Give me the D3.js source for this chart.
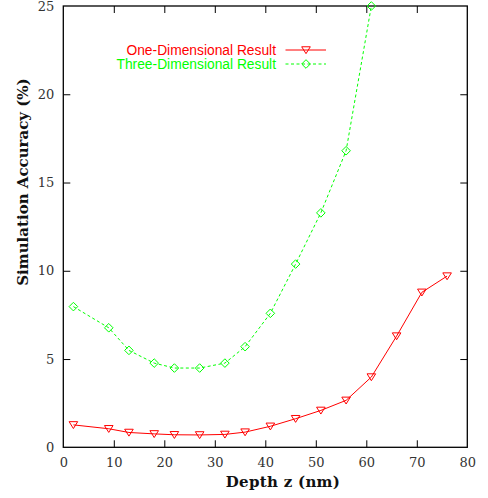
<!DOCTYPE html>
<html>
<head>
<meta charset="utf-8">
<script src="https://cdn.jsdelivr.net/npm/d3@7"></script>
<style>
  html, body { margin: 0; padding: 0; background: #fff; }
  svg { display: block; }
</style>
</head>
<body>
<svg id="chart" width="488" height="498"></svg>
<script>
// Depth positions (nm) at which both simulations were sampled
const depthOne = [2, 9, 13, 18, 22, 27, 32, 36, 41, 46, 51, 56, 61, 66, 71, 76];
const accuracyOne = [1.27, 1.05, 0.84, 0.76, 0.71, 0.70, 0.73, 0.86, 1.19, 1.62, 2.09, 2.66, 3.98, 6.30, 8.78, 9.70];

const depthThree = [2, 9, 13, 18, 22, 27, 32, 36, 41, 46, 51, 56, 61];
const accuracyThree = [7.97, 6.77, 5.49, 4.77, 4.49, 4.49, 4.77, 5.70, 7.59, 10.38, 13.28, 16.80, 25.0];

const xTicks = [0, 10, 20, 30, 40, 50, 60, 70, 80];
const yTicks = [0, 5, 10, 15, 20, 25];

const seriesNames = ["One-Dimensional Result", "Three-Dimensional Result"];

const svg = d3.select("#chart");
const plotLeft = 63.3, plotRight = 467.3, plotTop = 6, plotBottom = 447.3;

const x = d3.scaleLinear().domain([0, 80]).range([plotLeft, plotRight]);
const y = d3.scaleLinear().domain([0, 25]).range([plotBottom, plotTop]);

const serif = "'DejaVu Serif', serif";
const sans = "'Liberation Sans', Arial, sans-serif";
const tickLen = 7;

// Axes: ticks point inward on all four sides
const axisBottom = d3.axisBottom(x).tickValues(xTicks).tickSizeInner(-tickLen).tickSizeOuter(0).tickPadding(10);
const axisTop = d3.axisTop(x).tickValues(xTicks).tickSizeInner(-tickLen).tickSizeOuter(0).tickFormat("");
const axisLeft = d3.axisLeft(y).tickValues(yTicks).tickSizeInner(-tickLen).tickSizeOuter(0).tickPadding(9);
const axisRight = d3.axisRight(y).tickValues(yTicks).tickSizeInner(-tickLen).tickSizeOuter(0).tickFormat("");

function style(g) {
  g.select(".domain").remove();
  g.selectAll(".tick line").attr("stroke", "#000").attr("stroke-width", 1);
  g.selectAll(".tick text").attr("fill", "#333").style("font-family", serif).style("font-size", "13px");
}

svg.append("g").attr("transform", `translate(0,${plotBottom})`).call(axisBottom).call(style);
svg.append("g").attr("transform", `translate(0,${plotTop})`).call(axisTop).call(style);
svg.append("g").attr("transform", `translate(${plotLeft},0)`).call(axisLeft).call(style);
svg.append("g").attr("transform", `translate(${plotRight},0)`).call(axisRight).call(style);

// Tick marks that would sit on the frame corners are not drawn
svg.selectAll(".tick").filter(d => d === 0 || d === 80 || d === 25).select("line").remove();

// Frame
svg.append("rect")
  .attr("x", plotLeft).attr("y", plotTop)
  .attr("width", plotRight - plotLeft).attr("height", plotBottom - plotTop)
  .attr("fill", "none").attr("stroke", "#000").attr("stroke-width", 1.3);

// Axis titles
svg.append("text")
  .attr("x", 283).attr("y", 487)
  .attr("text-anchor", "middle")
  .style("font-family", serif).style("font-weight", "bold").style("font-size", "15px")
  .style("letter-spacing", "0.3px")
  .attr("fill", "#111")
  .text("Depth z (nm)");

svg.append("text")
  .attr("transform", "translate(28,182) rotate(-90)")
  .attr("text-anchor", "middle")
  .style("font-family", serif).style("font-weight", "bold").style("font-size", "15px")
  .attr("fill", "#111")
  .text("Simulation Accuracy (%)");

const line = d3.line().x(d => x(d[0])).y(d => y(d[1]));

const one = depthOne.map((d, i) => [d, accuracyOne[i]]);
const three = depthThree.map((d, i) => [d, accuracyThree[i]]);

const red = "#ff0000", green = "#00ff00";

// Triangle (pointing down) and diamond marker paths
function triDown(cx, cy, r) {
  return `M${cx - r},${cy - r * 0.75}L${cx + r},${cy - r * 0.75}L${cx},${cy + r * 0.85}Z`;
}
function diamond(cx, cy, r) {
  return `M${cx},${cy - r}L${cx + r},${cy}L${cx},${cy + r}L${cx - r},${cy}Z`;
}

const plot = svg.append("g");

plot.append("path").datum(three)
  .attr("d", line).attr("fill", "none")
  .attr("stroke", green).attr("stroke-width", 1).attr("stroke-dasharray", "3,2.5");

plot.selectAll(".m3").data(three).enter().append("path")
  .attr("d", d => diamond(x(d[0]), y(d[1]), 4.3))
  .attr("fill", "none").attr("stroke", green).attr("stroke-width", 1);

plot.append("path").datum(one)
  .attr("d", line).attr("fill", "none")
  .attr("stroke", red).attr("stroke-width", 1);

plot.selectAll(".m1").data(one).enter().append("path")
  .attr("d", d => triDown(x(d[0]), y(d[1]), 4.3))
  .attr("fill", "none").attr("stroke", red).attr("stroke-width", 1);

// Legend
const legend = [
  { name: seriesNames[0], color: red, dash: null, marker: triDown, yPos: 50 },
  { name: seriesNames[1], color: green, dash: "3,2.5", marker: diamond, yPos: 64 }
];
legend.forEach(l => {
  svg.append("text")
    .attr("x", 276).attr("y", l.yPos).attr("dy", "0.35em")
    .attr("text-anchor", "end")
    .style("font-family", sans).style("font-size", "13.8px")
    .attr("fill", l.color)
    .text(l.name);
  svg.append("line")
    .attr("x1", 285.5).attr("x2", 326).attr("y1", l.yPos).attr("y2", l.yPos)
    .attr("stroke", l.color).attr("stroke-width", 1)
    .attr("stroke-dasharray", l.dash);
  svg.append("path")
    .attr("d", l.marker(306, l.yPos, 4.3))
    .attr("fill", "none").attr("stroke", l.color).attr("stroke-width", 1);
});
</script>
</body>
</html>
